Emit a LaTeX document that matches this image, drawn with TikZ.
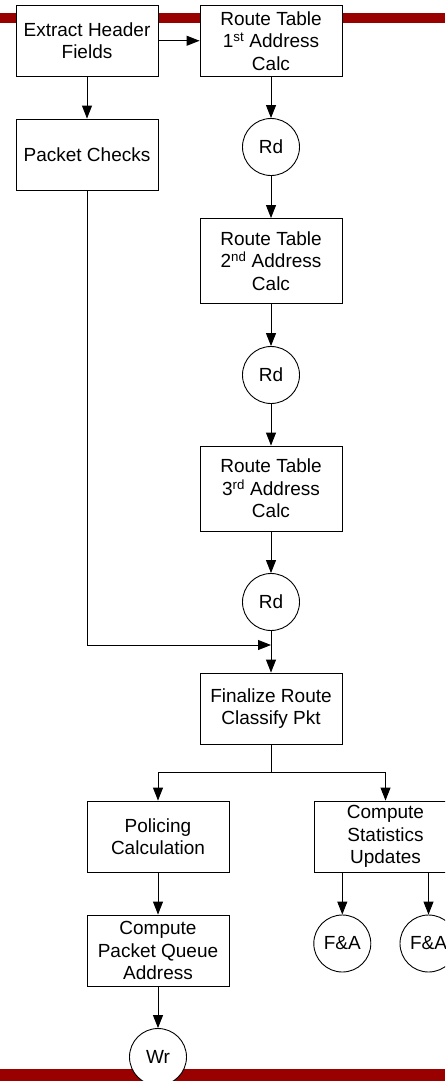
\documentclass[tikz,border=0pt]{standalone}
\usepackage{fontspec}
\setmainfont{Liberation Sans}
\usetikzlibrary{arrows.meta}
\definecolor{barred}{HTML}{990000}
\begin{document}
\begin{tikzpicture}[x=1pt,y=-1pt,
  every node/.style={font=\fontsize{19}{22.5}\selectfont, align=center, inner sep=0pt},
  blk/.style={draw, fill=white, line width=0.9pt, minimum width=142pt, minimum height=71pt},
  tall/.style={blk, minimum height=85pt},
  op/.style={draw, fill=white, circle, line width=0.9pt, minimum size=57pt},
  flow/.style={line width=0.9pt, -{Triangle[length=13pt,width=10pt]}},
  link/.style={line width=0.9pt}]
\useasboundingbox (0,0) rectangle (445,1081);
\clip (0,0) rectangle (445,1081);

% page rules
\fill[barred] (0,13) rectangle (445,23);
\fill[barred] (0,1069) rectangle (445,1081);

% left column
\node[blk] (ehf) at (87,40.75) {Extract Header\\Fields};
\node[blk] (pc) at (87,154.5) {Packet Checks};

% route table chain
\node[blk] (rt1) at (271,40.75) {Route Table\\1\textsuperscript{st} Address\\Calc};
\node[op] (rd1) at (271,147) {Rd};
\node[tall] (rt2) at (271,261) {Route Table\\2\textsuperscript{nd} Address\\Calc};
\node[op] (rd2) at (271,375) {Rd};
\node[tall] (rt3) at (271,488.5) {Route Table\\3\textsuperscript{rd} Address\\Calc};
\node[op] (rd3) at (271,602) {Rd};
\coordinate (join) at (271,645);
\node[blk] (fin) at (271,708.5) {Finalize Route\\Classify Pkt};
\coordinate (split) at (271,772.7);

% lower branches
\node[blk] (pol) at (158,836.5) {Policing\\Calculation};
\node[blk] (cpqa) at (158,950.5) {Compute\\Packet Queue\\Address};
\node[op] (wr) at (158,1057) {Wr};
\node[blk, minimum width=143pt] (stat) at (385.5,836.5) {Compute\\Statistics\\Updates};
\node[op] (fa1) at (342.3,943.5) {F\&A};
\node[op] (fa2) at (428.5,943.5) {F\&A};

% connectors
\draw[flow] (ehf) -- (rt1);
\draw[flow] (ehf) -- (pc);
\draw[flow] (rt1) -- (rd1);
\draw[flow] (rd1) -- (rt2);
\draw[flow] (rt2) -- (rd2);
\draw[flow] (rd2) -- (rt3);
\draw[flow] (rt3) -- (rd3);
\draw[flow] (pc.south) |- (join);
\draw[flow] (rd3) -- (fin);
\draw[link] (fin.south) -- (split);
\draw[flow] (split) -| (pol.north);
\draw[flow] (split) -| (stat.north);
\draw[flow] (pol) -- (cpqa);
\draw[flow] (cpqa) -- (wr);
\draw[flow] (fa1 |- stat.south) -- (fa1);
\draw[flow] (fa2 |- stat.south) -- (fa2);
\end{tikzpicture}
\end{document}
